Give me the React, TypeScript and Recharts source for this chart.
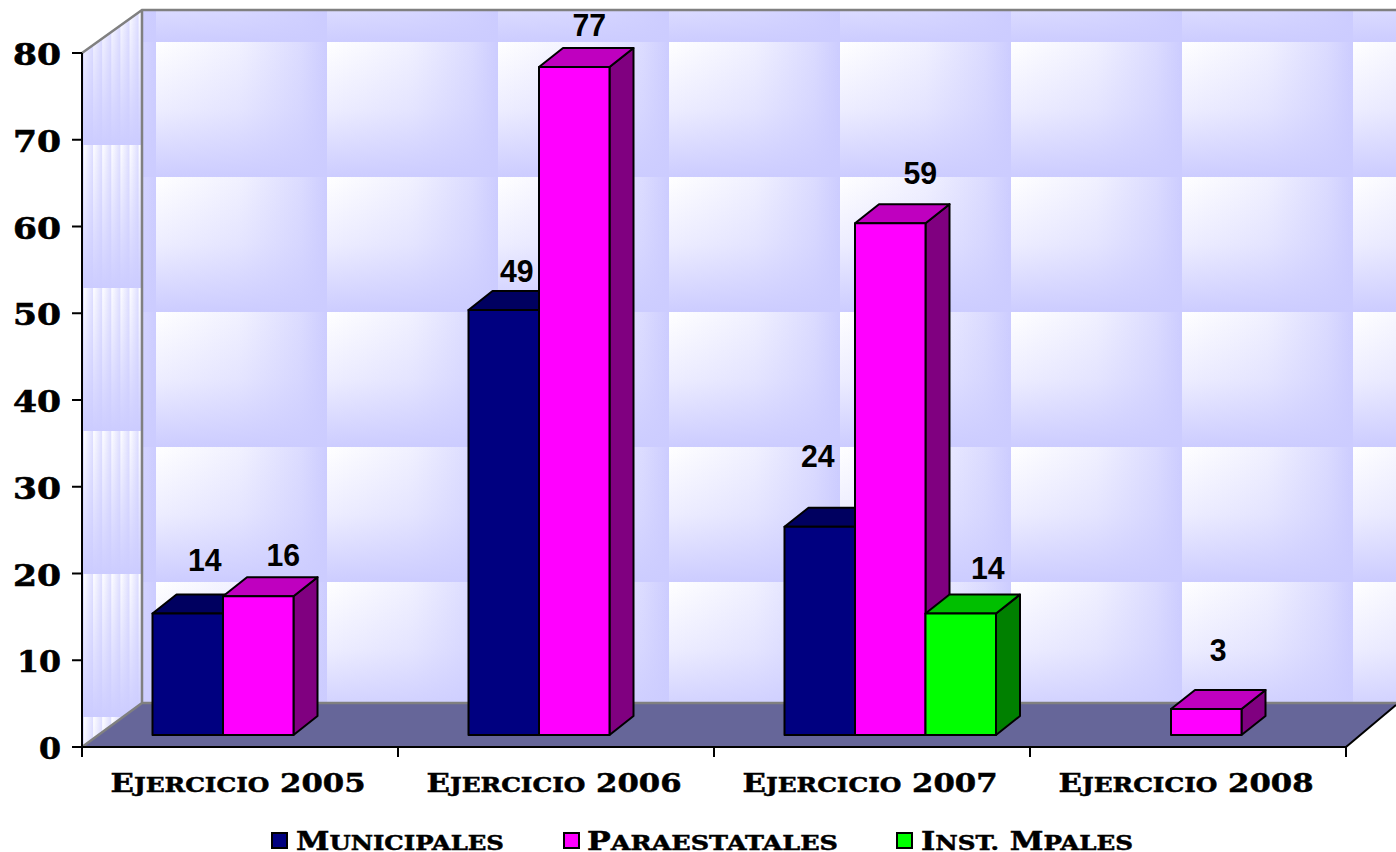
import React from 'react';
import { BarChart, Bar, XAxis, YAxis, Legend, LabelList } from 'recharts';

const categories = ['Ejercicio 2005', 'Ejercicio 2006', 'Ejercicio 2007', 'Ejercicio 2008'];
const municipales = [14, 49, 24, null];
const paraestatales = [16, 77, 59, 3];
const instMpales = [null, null, 14, null];
const yTicks = [0, 10, 20, 30, 40, 50, 60, 70, 80];

const rows = categories.map((name, i) => ({
  name,
  municipales: municipales[i],
  paraestatales: paraestatales[i],
  instMpales: instMpales[i],
}));

const W = 1396;
const H = 852;
const SHIFT_X = 18.5;
const SHIFT_Y = 12;
const DEPTH_X = 24;
const DEPTH_Y = 19;
const BAND = 316;
const SERIF = '"DejaVu Serif", serif';

const faces: Record<string, { top: string; side: string }> = {
  '#000080': { top: '#000060', side: '#000040' },
  '#ff00ff': { top: '#bf00bf', side: '#800080' },
  '#00ff00': { top: '#00bf00', side: '#008000' },
};

const Box3D = (p: any) => {
  const { x, y, width, height, fill, value } = p;
  if (value == null || !height) return null;
  const l = x + SHIFT_X;
  const t = y - SHIFT_Y;
  const r = l + width;
  const b = t + height;
  const f = faces[fill];
  const common = { stroke: '#000', strokeWidth: 2, strokeLinejoin: 'round' as const };
  return (
    <g>
      <polygon points={`${r},${t} ${r + DEPTH_X},${t - DEPTH_Y} ${r + DEPTH_X},${b - DEPTH_Y} ${r},${b}`} fill={f.side} {...common} />
      <polygon points={`${l},${t} ${l + DEPTH_X},${t - DEPTH_Y} ${r + DEPTH_X},${t - DEPTH_Y} ${r},${t}`} fill={f.top} {...common} />
      <rect x={l} y={t} width={width} height={height} fill={fill} {...common} />
    </g>
  );
};

const labelNudges: Record<string, [number, number][]> = {
  municipales: [[17, -53], [13, -38], [-2, -70]],
  paraestatales: [[25, -40], [15, -41], [30, -49], [12, -58]],
  instMpales: [[27, -45]],
};

const valueLabel = (series: string) => (p: any) => {
  const { x, y, width, value, index } = p;
  if (value == null) return null;
  const [dx, dy] = labelNudges[series][index] || [0, 0];
  return (
    <text
      x={x + width / 2 + SHIFT_X + dx}
      y={y - SHIFT_Y + dy + 10}
      textAnchor="middle"
      fontFamily='"Liberation Sans", Arial, sans-serif'
      fontWeight="bold"
      fontSize={32}
      fill="#000"
      textLength={String(value).length * 16.8}
      lengthAdjust="spacingAndGlyphs"
    >
      {value}
    </text>
  );
};

const YTick = (p: any) => {
  const s = String(p.payload.value);
  const len = s === '0' ? 22 : s === '10' ? 44 : 48;
  return (
    <text
      x={p.x}
      y={p.y + 12}
      textAnchor="end"
      fontFamily={SERIF}
      fontWeight="bold"
      fontSize={29}
      fill="#000"
      stroke="#000"
      strokeWidth={0.6}
      textLength={len}
      lengthAdjust="spacingAndGlyphs"
    >
      {s}
    </text>
  );
};

// Small capitals: capitals and digits stay large, lower-case letters become smaller capitals.
const capRuns = (s: string) => s.match(/[a-zñ.]+|[^a-zñ.]+/g) || [];

const CapsText = ({ text, x, y, len, anchor }: any) => (
  <text
    x={x}
    y={y}
    textAnchor={anchor}
    fontFamily={SERIF}
    fontWeight="bold"
    fontSize={26}
    fill="#000"
    stroke="#000"
    strokeWidth={0.5}
    textLength={len}
    lengthAdjust="spacingAndGlyphs"
  >
    {capRuns(text).map((run: string, i: number) =>
      /[a-zñ]/.test(run) ? (
        <tspan key={i} fontSize={21} style={{ textTransform: 'uppercase' }}>
          {run}
        </tspan>
      ) : (
        <tspan key={i}>{run}</tspan>
      ),
    )}
  </text>
);

const XTick = (p: any) => {
  const { x, payload, index } = p;
  const axisY = 747;
  return (
    <g>
      <line x1={x - BAND / 2} x2={x - BAND / 2} y1={axisY} y2={axisY + 10} stroke="#000" strokeWidth={2} />
      {index === categories.length - 1 && (
        <line x1={x + BAND / 2} x2={x + BAND / 2} y1={axisY} y2={axisY + 10} stroke="#000" strokeWidth={2} />
      )}
      <CapsText text={payload.value} x={x - 2} y={792} len={255} anchor="middle" />
    </g>
  );
};

const legendLayout = [
  { swatch: 272, text: 296, len: 208 },
  { swatch: 564, text: 587, len: 251 },
  { swatch: 897, text: 921, len: 212 },
];

const LegendContent = (p: any) => (
  <svg width={W} height={H} style={{ position: 'absolute', left: 0, top: 0 }}>
    {(p.payload || []).map((e: any, i: number) => (
      <g key={e.value}>
        <rect x={legendLayout[i].swatch} y={833} width={15} height={15} fill={e.color} stroke="#000" strokeWidth={2} />
        <CapsText text={e.value} x={legendLayout[i].text} y={850} len={legendLayout[i].len} anchor="start" />
      </g>
    ))}
  </svg>
);

const Backdrop = () => (
  <svg width={W} height={H} style={{ position: 'absolute', left: 0, top: 0 }}>
    <defs>
      <linearGradient id="tileH" x1="0" x2="1" y1="0" y2="0">
        <stop offset="0" stopColor="#ccccff" stopOpacity={0} />
        <stop offset="0.5" stopColor="#ccccff" stopOpacity={0.28} />
        <stop offset="0.85" stopColor="#ccccff" stopOpacity={0.7} />
        <stop offset="1" stopColor="#ccccff" stopOpacity={1} />
      </linearGradient>
      <linearGradient id="tileV" x1="0" x2="0" y1="0" y2="1">
        <stop offset="0" stopColor="#ccccff" stopOpacity={0} />
        <stop offset="0.5" stopColor="#ccccff" stopOpacity={0.35} />
        <stop offset="1" stopColor="#ccccff" stopOpacity={1} />
      </linearGradient>
      <pattern id="wallTile" patternUnits="userSpaceOnUse" x={156} y={42} width={171} height={135}>
        <rect width={171} height={135} fill="#fff" />
        <rect width={171} height={135} fill="url(#tileH)" />
        <rect width={171} height={135} fill="url(#tileV)" />
      </pattern>
      <linearGradient id="stripeH" x1="0" x2="1" y1="0" y2="0">
        <stop offset="0" stopColor="#ffffff" />
        <stop offset="1" stopColor="#ddddff" />
      </linearGradient>
      <linearGradient id="stripeV" x1="0" x2="0" y1="0" y2="1">
        <stop offset="0" stopColor="#ccccff" stopOpacity={0} />
        <stop offset="1" stopColor="#ccccff" stopOpacity={1} />
      </linearGradient>
      <pattern id="sideTile" patternUnits="userSpaceOnUse" x={84} y={2} width={9.1} height={143}>
        <rect width={9.1} height={143} fill="url(#stripeH)" />
        <rect width={9.1} height={143} fill="url(#stripeV)" />
      </pattern>
    </defs>
    <rect x={142} y={10} width={W - 142} height={693} fill="url(#wallTile)" />
    <polygon points="82,53 142,10 142,703 82,747" fill="url(#sideTile)" />
    <polygon points="82,747 142,703 1396,703 1396,705 1346,747" fill="#666699" />
    <path d="M82,53 L142,10 L1396,10 M142,10 L142,703 L1396,703 M142,703 L82,747" fill="none" stroke="#808080" strokeWidth={2.5} />
    <line x1={1346} y1={747} x2={1396} y2={705} stroke="#000" strokeWidth={2} />
  </svg>
);

export default function App() {
  return (
    <div style={{ position: 'absolute', left: 0, top: 0, width: W, height: H, overflow: 'hidden', background: '#fff' }}>
      <Backdrop />
      <div style={{ position: 'absolute', left: 0, top: 0 }}>
        <BarChart
          width={W}
          height={H}
          data={rows}
          barSize={70.5}
          barGap={0}
          barCategoryGap={0}
          margin={{ top: 53, right: 50, bottom: 0, left: 0 }}
        >
          <XAxis
            dataKey="name"
            height={105}
            interval={0}
            tickLine={false}
            axisLine={{ stroke: '#000', strokeWidth: 2 }}
            tick={<XTick />}
          />
          <YAxis
            width={82}
            domain={[0, 80]}
            ticks={yTicks}
            interval={0}
            tickSize={10}
            tickMargin={11}
            tickLine={{ stroke: '#000', strokeWidth: 2 }}
            axisLine={{ stroke: '#000', strokeWidth: 2 }}
            tick={<YTick />}
          />
          <Legend
            layout="horizontal"
            verticalAlign="middle"
            align="center"
            itemSorter={null}
            wrapperStyle={{ left: 0, top: 0, width: W, height: H, pointerEvents: 'none' }}
            content={<LegendContent />}
          />
          <Bar dataKey="municipales" name="Municipales" fill="#000080" shape={Box3D} isAnimationActive={false}>
            <LabelList dataKey="municipales" content={valueLabel('municipales')} />
          </Bar>
          <Bar dataKey="paraestatales" name="Paraestatales" fill="#ff00ff" shape={Box3D} isAnimationActive={false}>
            <LabelList dataKey="paraestatales" content={valueLabel('paraestatales')} />
          </Bar>
          <Bar dataKey="instMpales" name="Inst. Mpales" fill="#00ff00" shape={Box3D} isAnimationActive={false}>
            <LabelList dataKey="instMpales" content={valueLabel('instMpales')} />
          </Bar>
        </BarChart>
      </div>
    </div>
  );
}
